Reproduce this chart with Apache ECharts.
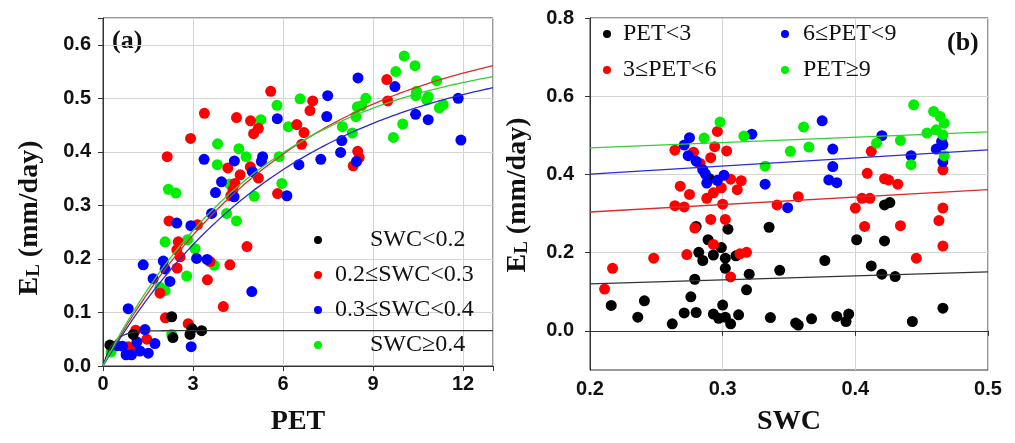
<!DOCTYPE html>
<html>
<head>
<meta charset="utf-8">
<script src="https://cdn.jsdelivr.net/npm/echarts@6/dist/echarts.min.js"></script>
<style>
  html, body { margin: 0; padding: 0; background: #fff; }
  #chart { width: 1015px; height: 443px; }
</style>
</head>
<body>
<div id="chart"></div>
<script>
// ---------- Panel (a): EL against PET, grouped by soil water content ----------
const swcGroups = ['SWC<0.2', '0.2≤SWC<0.3', '0.3≤SWC<0.4', 'SWC≥0.4'];

// [PET, EL] pairs
const swcBelow02 = [[0.23,0.039],[1.01,0.059],[2.29,0.092],[2.96,0.070],[3.29,0.066],[2.90,0.059],[2.33,0.053]];
const swc02to03 = [[5.59,0.513],[3.38,0.472],[4.45,0.464],[4.92,0.458],[5.18,0.444],[5.02,0.434],[6.46,0.451],[2.92,0.425],[2.14,0.391],[4.16,0.370],[4.91,0.372],[4.57,0.357],[5.18,0.351],[4.40,0.341],[4.33,0.329],[4.26,0.318],[5.82,0.322],[2.20,0.271],[3.15,0.264],[2.51,0.232],[2.46,0.217],[2.57,0.204],[4.80,0.223],[2.47,0.183],[3.57,0.195],[4.23,0.189],[3.48,0.161],[1.90,0.136],[4.01,0.111],[2.08,0.090],[2.84,0.079],[1.09,0.067],[1.46,0.050],[0.84,0.036],[1.01,0.030],[9.46,0.535],[9.49,0.495],[6.99,0.495],[6.90,0.477],[6.70,0.436],[6.62,0.414],[8.49,0.401],[8.54,0.389],[8.34,0.374]];
const swc03to04 = [[5.81,0.462],[3.37,0.386],[4.38,0.383],[5.32,0.391],[5.28,0.382],[4.98,0.363],[3.95,0.344],[3.75,0.324],[4.37,0.316],[6.13,0.318],[3.62,0.285],[2.46,0.267],[2.93,0.262],[1.34,0.189],[2.01,0.196],[2.07,0.181],[3.12,0.201],[3.47,0.199],[1.67,0.163],[2.23,0.158],[4.96,0.139],[0.84,0.107],[2.94,0.036],[1.40,0.068],[1.13,0.045],[1.73,0.042],[0.48,0.038],[0.65,0.037],[0.77,0.021],[0.95,0.021],[1.23,0.028],[1.51,0.024],[8.50,0.538],[9.73,0.522],[7.49,0.505],[11.84,0.500],[7.46,0.466],[10.42,0.470],[10.84,0.460],[11.93,0.422],[7.96,0.421],[7.92,0.399],[7.26,0.386],[6.53,0.376],[8.45,0.382]];
const swcAbove04 = [[5.80,0.487],[5.26,0.460],[6.18,0.447],[3.82,0.415],[4.53,0.406],[3.81,0.376],[4.77,0.391],[5.87,0.391],[4.22,0.340],[5.96,0.341],[2.18,0.330],[2.43,0.323],[5.04,0.317],[4.12,0.285],[4.45,0.271],[2.07,0.232],[2.82,0.236],[3.07,0.219],[3.71,0.188],[2.79,0.168],[1.90,0.147],[2.07,0.141],[2.29,0.059],[0.27,0.026],[10.04,0.579],[10.40,0.561],[9.76,0.550],[11.12,0.533],[10.45,0.513],[10.43,0.505],[10.84,0.503],[10.79,0.497],[11.34,0.488],[11.21,0.482],[9.99,0.452],[9.68,0.427],[6.57,0.499],[8.76,0.500],[8.48,0.484],[8.62,0.486],[8.43,0.466],[7.98,0.447],[8.31,0.435]];

// Saturating fit EL = a * (1 - exp(-b * PET)) for each SWC group
const fitA = [0.066, 0.641, 0.594, 0.594];
const fitB = [3.0, 0.16, 0.16, 0.185];

// ---------- Panel (b): EL against SWC, grouped by PET ----------
const petGroups = ['PET<3', '3≤PET<6', '6≤PET<9', 'PET≥9'];

// [SWC, EL] pairs
const petBelow3 = [[0.290,0.389],[0.280,0.267],[0.304,0.260],[0.335,0.265],[0.289,0.233],[0.299,0.213],[0.282,0.201],[0.293,0.194],[0.285,0.180],[0.302,0.186],[0.310,0.192],[0.302,0.160],[0.320,0.145],[0.343,0.155],[0.279,0.132],[0.318,0.105],[0.276,0.087],[0.216,0.065],[0.241,0.077],[0.236,0.035],[0.262,0.018],[0.271,0.046],[0.280,0.047],[0.293,0.043],[0.300,0.066],[0.297,0.032],[0.302,0.035],[0.306,0.018],[0.312,0.041],[0.336,0.034],[0.355,0.020],[0.357,0.015],[0.367,0.031],[0.386,0.037],[0.393,0.024],[0.395,0.043],[0.443,0.024],[0.466,0.058],[0.422,0.322],[0.426,0.328],[0.401,0.233],[0.422,0.230],[0.377,0.180],[0.412,0.166],[0.420,0.145],[0.430,0.139]];
const pet3to6 = [[0.296,0.510],[0.264,0.462],[0.278,0.457],[0.294,0.471],[0.303,0.460],[0.291,0.443],[0.283,0.428],[0.306,0.388],[0.314,0.384],[0.311,0.361],[0.268,0.370],[0.275,0.349],[0.299,0.366],[0.293,0.353],[0.288,0.339],[0.264,0.320],[0.271,0.317],[0.300,0.324],[0.341,0.322],[0.357,0.343],[0.291,0.285],[0.302,0.285],[0.279,0.263],[0.293,0.221],[0.248,0.186],[0.273,0.195],[0.313,0.197],[0.318,0.201],[0.306,0.138],[0.217,0.160],[0.211,0.107],[0.412,0.459],[0.409,0.403],[0.422,0.389],[0.425,0.386],[0.432,0.375],[0.466,0.412],[0.405,0.339],[0.411,0.339],[0.400,0.314],[0.466,0.314],[0.463,0.282],[0.407,0.267],[0.434,0.269],[0.466,0.217],[0.446,0.186]];
const pet6to9 = [[0.275,0.494],[0.271,0.475],[0.322,0.503],[0.274,0.448],[0.280,0.434],[0.285,0.412],[0.287,0.401],[0.288,0.378],[0.296,0.385],[0.301,0.398],[0.332,0.375],[0.349,0.315],[0.375,0.537],[0.383,0.465],[0.383,0.420],[0.380,0.386],[0.386,0.379],[0.420,0.499],[0.461,0.465],[0.465,0.484],[0.466,0.476],[0.442,0.448],[0.466,0.433]];
const petAbove9 = [[0.298,0.534],[0.286,0.493],[0.316,0.498],[0.332,0.421],[0.351,0.459],[0.361,0.521],[0.365,0.470],[0.444,0.578],[0.459,0.561],[0.464,0.548],[0.467,0.531],[0.416,0.480],[0.434,0.487],[0.454,0.506],[0.461,0.514],[0.466,0.501],[0.442,0.425],[0.467,0.448]];

// Linear fits: EL at SWC = 0.2 and at SWC = 0.5
const swcLineEnds = [0.2, 0.5];
const linStart = [0.120, 0.304, 0.401, 0.468];
const linEnd = [0.151, 0.361, 0.463, 0.509];

// Axis ticks
const petTicks = [0, 3, 6, 9, 12];
const elTicksA = [0, 0.1, 0.2, 0.3, 0.4, 0.5, 0.6];
const swcTicks = [0.2, 0.3, 0.4, 0.5];
const elTicksB = [0, 0.2, 0.4, 0.6, 0.8];

// ---------- styling ----------
const dotColors = ['#000000', '#ff0000', '#0000ff', '#00ee00'];
const lineColors = ['#333333', '#dd2a2a', '#2a2ad6', '#33d033'];
const SERIF = '"Liberation Serif", "Times New Roman", serif';
const SANS = '"Liberation Sans", Arial, sans-serif';
const tickFont = { fontFamily: SANS, fontWeight: 'bold', fontSize: 20, color: '#111' };
const titleFont = { fontFamily: SERIF, fontWeight: 'bold', fontSize: 28, color: '#111' };
const gridGray = '#d4d4d4';
const axisDark = '#333';

function onTick(list) {
  return v => list.some(t => Math.abs(t - v) < 1e-9) ? (Number.isInteger(list[1]) ? String(Math.round(v)) : v.toFixed(1)) : '';
}

const petSamples = [];
for (let i = 0; i <= 130; i++) petSamples.push(i / 10);
function fitCurve(k) {
  return petSamples.map(p => [p, fitA[k] * (1 - Math.exp(-fitB[k] * p))]);
}

const groupsA = [swcBelow02, swc02to03, swc03to04, swcAbove04];
const groupsB = [petBelow3, pet3to6, pet6to9, petAbove9];

const series = [];
// panel (a) points, dry group last so it sits on top
[3, 1, 2, 0].forEach(k => {
  series.push({
    type: 'scatter', name: swcGroups[k], xAxisIndex: 0, yAxisIndex: 0,
    data: groupsA[k], symbol: 'circle', symbolSize: 11,
    itemStyle: { color: dotColors[k], opacity: 1 }, z: 3
  });
});
[0, 1, 2, 3].forEach(k => {
  series.push({
    type: 'line', name: 'fitA' + k, xAxisIndex: 0, yAxisIndex: 0,
    data: fitCurve(k), showSymbol: false, symbol: 'none',
    lineStyle: { color: lineColors[k], width: 1.3 }, z: 4, silent: true
  });
});
// panel (b)
[0, 1, 2, 3].forEach(k => {
  series.push({
    type: 'scatter', name: petGroups[k], xAxisIndex: 1, yAxisIndex: 1,
    data: groupsB[k], symbol: 'circle', symbolSize: 11,
    itemStyle: { color: dotColors[k], opacity: 1 }, z: 3
  });
});
[0, 1, 2, 3].forEach(k => {
  series.push({
    type: 'line', name: 'fitB' + k, xAxisIndex: 1, yAxisIndex: 1,
    data: [[swcLineEnds[0], linStart[k]], [swcLineEnds[1], linEnd[k]]],
    showSymbol: false, symbol: 'none',
    lineStyle: { color: lineColors[k], width: 1.3 }, z: 4, silent: true
  });
});

const legendText = { fontFamily: SERIF, fontSize: 24, color: '#111', lineHeight: 26 };

const option = {
  animation: false,
  backgroundColor: '#fff',
  grid: [
    { left: 103, top: 18, width: 390, height: 348, show: true, borderColor: axisDark, borderWidth: 1 },
    { left: 590, top: 18, width: 398, height: 352, show: true, borderColor: axisDark, borderWidth: 1 },
    // tick/label frame for panel (b): spans EL 0 .. 0.8
    { left: 590, top: 18, width: 398, height: 352 * 0.8 / 0.9, show: false }
  ],
  xAxis: [
    {
      gridIndex: 0, type: 'value', min: 0, max: 13, interval: 3,
      name: 'PET', nameLocation: 'middle', nameGap: 42, nameTextStyle: titleFont,
      axisLine: { lineStyle: { color: axisDark } },
      axisTick: { inside: false, length: 5, lineStyle: { color: axisDark } },
      axisLabel: Object.assign({ margin: 8, formatter: onTick(petTicks) }, tickFont),
      splitLine: { show: true, lineStyle: { color: gridGray } }
    },
    {
      gridIndex: 1, type: 'value', min: 0.2, max: 0.5, interval: 0.1,
      name: 'SWC', nameLocation: 'middle', nameGap: 38, nameTextStyle: titleFont,
      axisLine: { lineStyle: { color: axisDark } },
      axisTick: { inside: false, length: 5, lineStyle: { color: axisDark } },
      axisLabel: Object.assign({ margin: 9, formatter: onTick(swcTicks) }, tickFont),
      splitLine: { show: true, lineStyle: { color: gridGray } }
    },
    { gridIndex: 2, type: 'value', min: 0, max: 1, show: false }
  ],
  yAxis: [
    {
      gridIndex: 0, type: 'value', min: 0, max: 0.65, interval: 0.1,
      axisLine: { show: true, lineStyle: { color: axisDark } },
      axisTick: { show: true, inside: false, length: 5, lineStyle: { color: axisDark } },
      axisLabel: Object.assign({ margin: 12, formatter: onTick(elTicksA) }, tickFont),
      splitLine: { show: true, lineStyle: { color: gridGray } }
    },
    {
      gridIndex: 1, type: 'value', min: -0.1, max: 0.8,
      axisLine: { show: true, lineStyle: { color: axisDark } },
      axisTick: { show: false }, axisLabel: { show: false }, splitLine: { show: false }
    },
    {
      gridIndex: 2, type: 'value', min: 0, max: 0.8, interval: 0.2,
      axisLine: { show: false },
      axisTick: { show: true, inside: false, length: 5, lineStyle: { color: axisDark } },
      axisLabel: Object.assign({ margin: 16, formatter: onTick(elTicksB) }, tickFont),
      splitLine: { show: true, lineStyle: { color: gridGray } }
    }
  ],
  legend: [
    {
      data: swcGroups, orient: 'vertical', left: 309, top: 222,
      icon: 'circle', itemWidth: 8, itemHeight: 8, itemGap: 9,
      selectedMode: false,
      formatter: name => (name.startsWith('SWC') ? '{w|' : '{n|') + name + '}',
      textStyle: Object.assign({}, legendText, {
        rich: {
          w: Object.assign({ padding: [0, 0, 0, 43] }, legendText),
          n: Object.assign({ padding: [0, 0, 0, 8] }, legendText)
        }
      })
    },
    {
      data: petGroups.slice(0, 2), orient: 'vertical', left: 598, top: 16,
      icon: 'circle', itemWidth: 8, itemHeight: 8, itemGap: 10,
      selectedMode: false,
      formatter: name => '{n|' + name + '}',
      textStyle: Object.assign({}, legendText, { rich: { n: Object.assign({ padding: [0, 0, 0, 7] }, legendText) } })
    },
    {
      data: petGroups.slice(2), orient: 'vertical', left: 776, top: 16,
      icon: 'circle', itemWidth: 8, itemHeight: 8, itemGap: 10,
      selectedMode: false,
      formatter: name => '{n|' + name + '}',
      textStyle: Object.assign({}, legendText, { rich: { n: Object.assign({ padding: [0, 0, 0, 9] }, legendText) } })
    }
  ],
  graphic: [
    {
      type: 'text', x: 30, y: 218, rotation: Math.PI / 2,
      style: {
        text: '{e|E}{l|L}{t| (mm/day)}', align: 'center', verticalAlign: 'middle',
        rich: {
          e: { fontFamily: SERIF, fontWeight: 'bold', fontSize: 28, fill: '#111' },
          l: { fontFamily: SERIF, fontWeight: 'bold', fontSize: 19, fill: '#111', verticalAlign: 'bottom' },
          t: { fontFamily: SERIF, fontWeight: 'bold', fontSize: 28, fill: '#111' }
        }
      }
    },
    {
      type: 'text', x: 518, y: 195, rotation: Math.PI / 2,
      style: {
        text: '{e|E}{l|L}{t| (mm/day)}', align: 'center', verticalAlign: 'middle',
        rich: {
          e: { fontFamily: SERIF, fontWeight: 'bold', fontSize: 28, fill: '#111' },
          l: { fontFamily: SERIF, fontWeight: 'bold', fontSize: 19, fill: '#111', verticalAlign: 'bottom' },
          t: { fontFamily: SERIF, fontWeight: 'bold', fontSize: 28, fill: '#111' }
        }
      }
    },
    {
      type: 'text', left: 112, top: 28,
      style: { text: '(a)', fontFamily: SERIF, fontWeight: 'bold', fontSize: 26, fill: '#111' }
    },
    {
      type: 'text', left: 947, top: 30,
      style: { text: '(b)', fontFamily: SERIF, fontWeight: 'bold', fontSize: 26, fill: '#111' }
    }
  ],
  series: series
};

const chart = echarts.init(document.getElementById('chart'), null, { renderer: 'canvas' });
chart.setOption(option);
</script>
</body>
</html>
